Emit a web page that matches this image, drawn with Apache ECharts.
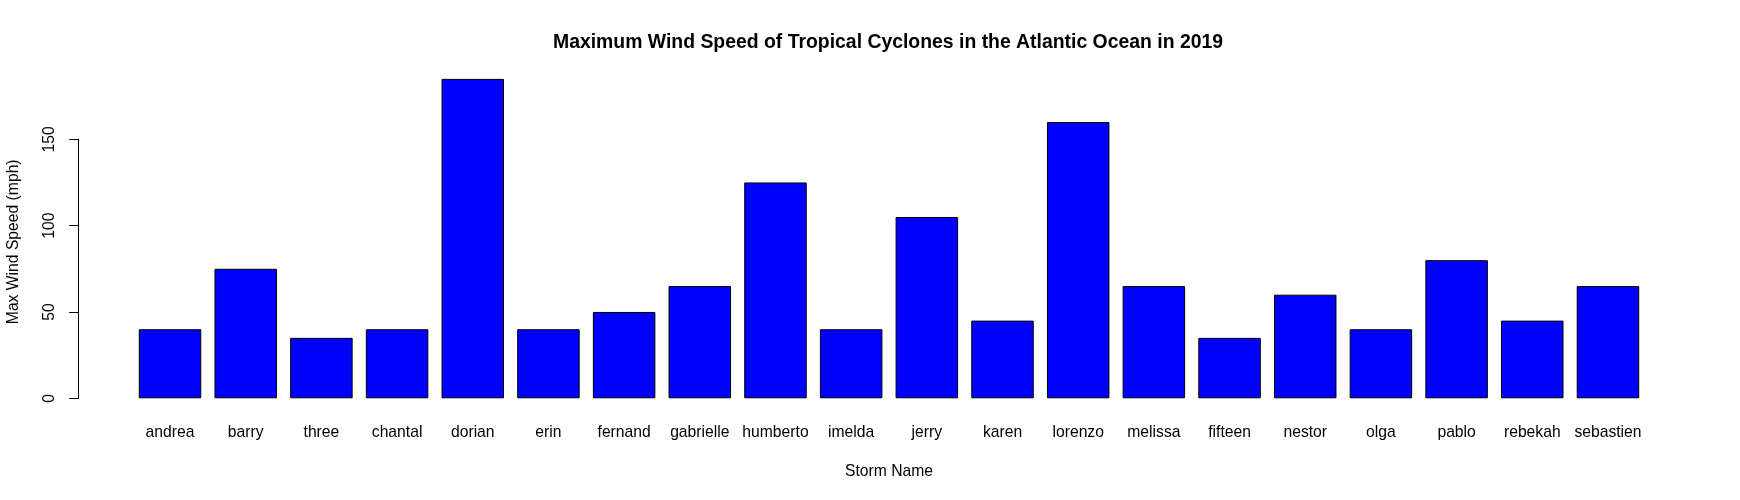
<!DOCTYPE html>
<html>
<head>
<meta charset="utf-8">
<script src="https://cdn.jsdelivr.net/npm/echarts@6/dist/echarts.min.js"></script>
<style>html,body{margin:0;padding:0;background:#fff}#c{width:1740px;height:500px}</style>
</head>
<body>
<div id="c"></div>
<script>
const storms = ["andrea","barry","three","chantal","dorian","erin","fernand","gabrielle","humberto","imelda","jerry","karen","lorenzo","melissa","fifteen","nestor","olga","pablo","rebekah","sebastien"];
const windSpeed = [40,75,35,40,185,40,50,65,125,40,105,45,160,65,35,60,40,80,45,65];
const yTicks = [0,50,100,150];

const FONT = "Liberation Sans, Arial, sans-serif";
const FS = 15.7;
const chart = echarts.init(document.getElementById('c'), null, {renderer:'canvas'});
chart.setOption({
  animation: false,
  backgroundColor: '#ffffff',
  title: {
    text: 'Maximum Wind Speed of Tropical Cyclones in the Atlantic Ocean in 2019',
    left: 883, textAlign: 'center', top: 28,
    textStyle: {fontFamily: FONT, fontSize: 19.4, fontWeight: 'bold', color: '#000'}
  },
  grid: {left: 132.2, right: 94.2, top: 139.3, bottom: 101.7, containLabel: false, outerBoundsMode: 'none'},
  xAxis: {
    type: 'category',
    data: storms,
    name: 'Storm Name',
    nameLocation: 'middle',
    nameGap: 65,
    nameTextStyle: {fontFamily: FONT, fontSize: FS, color: '#000'},
    axisLine: {show: false},
    axisTick: {show: false},
    axisLabel: {fontFamily: FONT, fontSize: FS, color: '#000', margin: 26, interval: 0}
  },
  yAxis: {
    type: 'value',
    min: yTicks[0], max: yTicks[yTicks.length-1], interval: 50,
    offset: 54,
    name: 'Max Wind Speed (mph)',
    nameLocation: 'middle',
    nameGap: 57,
    nameTextStyle: {fontFamily: FONT, fontSize: FS, color: '#000', padding: [0, 0, 0, 54]},
    axisLine: {show: true, lineStyle: {color: '#000', width: 1}},
    axisTick: {show: true, length: 9, lineStyle: {color: '#000', width: 1}},
    axisLabel: {fontFamily: FONT, fontSize: FS, color: '#000', rotate: 90, margin: 20.5},
    splitLine: {show: false}
  },
  series: [{
    type: 'bar',
    data: windSpeed,
    barWidth: 62.5,
    clip: false,
    itemStyle: {color: '#0000ff', borderColor: '#000', borderWidth: 1}
  }]
});
</script>
</body>
</html>
